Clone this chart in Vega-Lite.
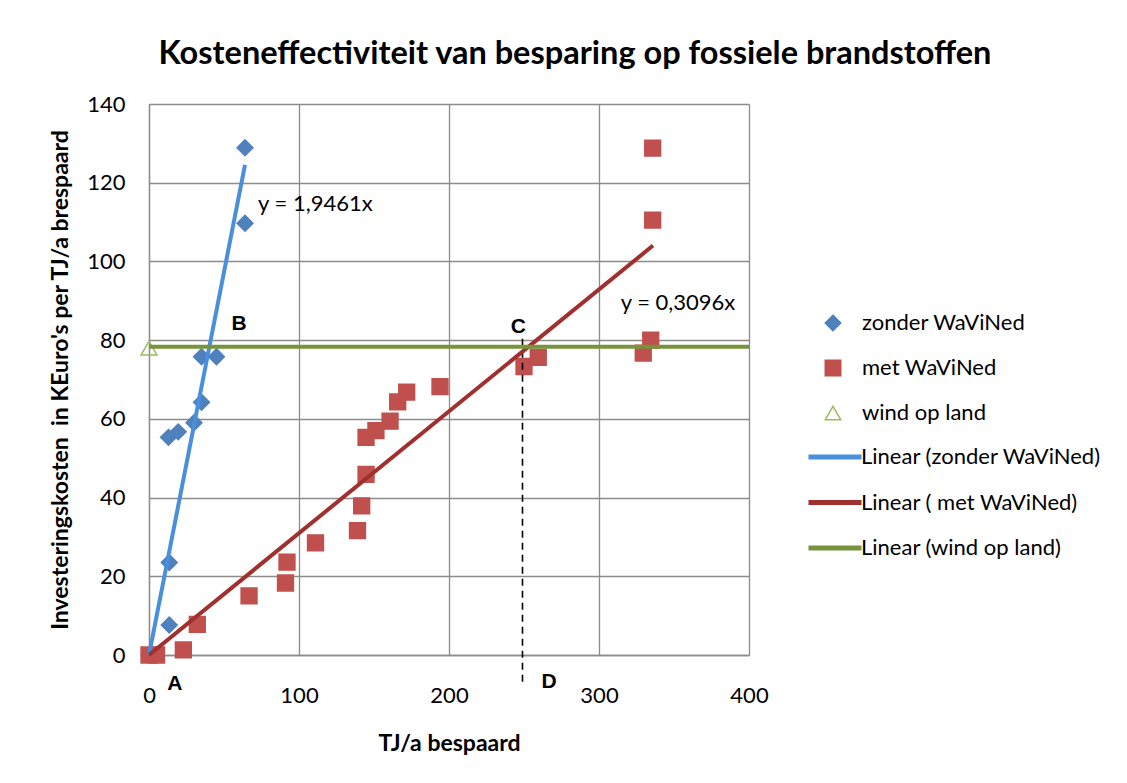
{
  "$schema": "https://vega.github.io/schema/vega-lite/v6.json",
  "width": 600,
  "height": 551,
  "autosize": {"type": "none"},
  "padding": {"left": 149, "top": 104, "right": 378, "bottom": 128},
  "background": "white",
  "title": {
    "text": "Kosteneffectiviteit van besparing op fossiele brandstoffen",
    "font": "Lato",
    "fontSize": 32.5,
    "fontWeight": "bold",
    "color": "#000000",
    "anchor": "middle",
    "frame": "group",
    "dx": 126,
    "offset": 23
  },
  "datasets": {
    "pts": [
      {"series": "zonder WaViNed", "x": 0, "y": 0},
      {"series": "zonder WaViNed", "x": 13.5, "y": 7.6},
      {"series": "zonder WaViNed", "x": 13.5, "y": 23.5},
      {"series": "zonder WaViNed", "x": 13, "y": 55.3},
      {"series": "zonder WaViNed", "x": 19.5, "y": 56.7},
      {"series": "zonder WaViNed", "x": 30, "y": 59},
      {"series": "zonder WaViNed", "x": 35, "y": 64.2},
      {"series": "zonder WaViNed", "x": 35, "y": 75.8},
      {"series": "zonder WaViNed", "x": 45, "y": 75.8},
      {"series": "zonder WaViNed", "x": 64, "y": 109.7},
      {"series": "zonder WaViNed", "x": 64, "y": 128.9},
      {"series": "met WaViNed", "x": 0, "y": 0},
      {"series": "met WaViNed", "x": 5, "y": 0},
      {"series": "met WaViNed", "x": 22.9, "y": 1.3},
      {"series": "met WaViNed", "x": 32.2, "y": 7.8},
      {"series": "met WaViNed", "x": 66.7, "y": 15},
      {"series": "met WaViNed", "x": 91, "y": 18.3},
      {"series": "met WaViNed", "x": 92, "y": 23.6},
      {"series": "met WaViNed", "x": 111, "y": 28.5},
      {"series": "met WaViNed", "x": 139, "y": 31.6},
      {"series": "met WaViNed", "x": 141.8, "y": 37.9},
      {"series": "met WaViNed", "x": 144.7, "y": 45.9},
      {"series": "met WaViNed", "x": 144.7, "y": 55.3},
      {"series": "met WaViNed", "x": 151.3, "y": 57},
      {"series": "met WaViNed", "x": 160.7, "y": 59.4},
      {"series": "met WaViNed", "x": 165.8, "y": 64.3},
      {"series": "met WaViNed", "x": 171.8, "y": 66.8},
      {"series": "met WaViNed", "x": 194, "y": 68.2},
      {"series": "met WaViNed", "x": 250, "y": 73.3},
      {"series": "met WaViNed", "x": 259.5, "y": 75.6},
      {"series": "met WaViNed", "x": 329.5, "y": 76.7},
      {"series": "met WaViNed", "x": 334.5, "y": 80},
      {"series": "met WaViNed", "x": 335.8, "y": 110.5},
      {"series": "met WaViNed", "x": 335.8, "y": 128.8},
      {"series": "wind op land", "x": 0, "y": 78}
    ],
    "trend": [
      {"series": "Linear (zonder WaViNed)", "x": 0, "y": 0},
      {"series": "Linear (zonder WaViNed)", "x": 64, "y": 124.55},
      {"series": "Linear ( met WaViNed)", "x": 0, "y": 0},
      {"series": "Linear ( met WaViNed)", "x": 336, "y": 104.03},
      {"series": "Linear (wind op land)", "x": 0, "y": 78.3},
      {"series": "Linear (wind op land)", "x": 400, "y": 78.3}
    ],
    "marker": [
      {"x": 249, "y": -6.8, "y2": 80.9}
    ],
    "letters": [
      {"x": 17.3, "y": -7.3, "label": "A"},
      {"x": 60, "y": 84, "label": "B"},
      {"x": 246.2, "y": 83.4, "label": "C"},
      {"x": 266.7, "y": -6.8, "label": "D"}
    ],
    "equations": [
      {"x": 72.7, "y": 114.5, "label": "y = 1,9461x"},
      {"x": 314.5, "y": 89.4, "label": "y = 0,3096x"}
    ]
  },
  "encoding": {
    "x": {
      "field": "x",
      "type": "quantitative",
      "scale": {"domain": [0, 400], "nice": false},
      "axis": {"values": [0, 100, 200, 300, 400], "title": "TJ/a bespaard"}
    },
    "y": {
      "field": "y",
      "type": "quantitative",
      "scale": {"domain": [0, 140], "nice": false},
      "axis": {"values": [0, 20, 40, 60, 80, 100, 120, 140], "title": "Investeringskosten \u00a0in KEuro's per TJ/a brespaard"}
    }
  },
  "layer": [
    {
      "data": {"name": "pts"},
      "mark": {"type": "point", "filled": true, "opacity": 1, "size": 250, "strokeWidth": 1.5},
      "encoding": {
        "fill": {
          "field": "series",
          "type": "nominal",
          "scale": {
            "domain": ["zonder WaViNed", "met WaViNed", "wind op land"],
            "range": ["#4F81BD", "#C0504D", "transparent"]
          },
          "legend": {
            "title": null,
            "orient": "none",
            "legendX": 673,
            "legendY": 208,
            "padding": 0,
            "symbolSize": 240,
            "symbolStrokeWidth": 1.5,
            "rowPadding": 23,
            "labelFont": "Lato",
            "labelFontSize": 22,
            "labelLimit": 400,
            "labelColor": "#000000",
            "labelOffset": 18
          }
        },
        "stroke": {
          "field": "series",
          "type": "nominal",
          "scale": {
            "domain": ["zonder WaViNed", "met WaViNed", "wind op land"],
            "range": ["#4F81BD", "#C0504D", "#9BBB59"]
          },
          "legend": {
            "title": null,
            "orient": "none",
            "legendX": 673,
            "legendY": 208,
            "padding": 0,
            "symbolSize": 240,
            "symbolStrokeWidth": 1.5,
            "rowPadding": 23,
            "labelFont": "Lato",
            "labelFontSize": 22,
            "labelLimit": 400,
            "labelColor": "#000000",
            "labelOffset": 18
          }
        },
        "shape": {
          "field": "series",
          "type": "nominal",
          "scale": {
            "domain": ["zonder WaViNed", "met WaViNed", "wind op land"],
            "range": ["diamond", "square", "M0,-0.87L1,0.87L-1,0.87Z"]
          },
          "legend": {
            "title": null,
            "orient": "none",
            "legendX": 673,
            "legendY": 208,
            "padding": 0,
            "symbolSize": 240,
            "symbolStrokeWidth": 1.5,
            "rowPadding": 23,
            "labelFont": "Lato",
            "labelFontSize": 22,
            "labelLimit": 400,
            "labelColor": "#000000",
            "labelOffset": 18
          }
        }
      }
    },
    {
      "data": {"name": "marker"},
      "mark": {"type": "rule", "color": "#000000", "strokeWidth": 1.6, "strokeDash": [7, 5]},
      "encoding": {"y2": {"field": "y2"}}
    },
    {
      "data": {"name": "trend"},
      "mark": {"type": "line", "strokeWidth": 4},
      "encoding": {
        "color": {
          "field": "series",
          "type": "nominal",
          "scale": {
            "domain": ["Linear (zonder WaViNed)", "Linear ( met WaViNed)", "Linear (wind op land)"],
            "range": ["#4A8FDC", "#A0302D", "#77933C"]
          },
          "legend": {
            "title": null,
            "orient": "none",
            "legendX": 657,
            "legendY": 324,
            "padding": 0,
            "symbolType": "stroke",
            "symbolSize": 2809,
            "symbolStrokeWidth": 5,
            "rowPadding": 5.5,
            "labelFont": "Lato",
            "labelFontSize": 22,
            "labelLimit": 400,
            "labelColor": "#000000",
            "labelOffset": -3
          }
        }
      }
    },
    {
      "data": {"name": "letters"},
      "mark": {"type": "text", "font": "Liberation Sans", "fontSize": 21, "fontWeight": "bold", "color": "#000000", "align": "center", "baseline": "middle"},
      "encoding": {"text": {"field": "label"}}
    },
    {
      "data": {"name": "equations"},
      "mark": {"type": "text", "font": "Lato", "fontSize": 22, "color": "#000000", "align": "left", "baseline": "middle"},
      "encoding": {"text": {"field": "label"}}
    }
  ],
  "config": {
    "font": "Lato",
    "view": {"stroke": null},
    "axis": {
      "grid": true,
      "gridColor": "#8c8c8c",
      "gridWidth": 1.3,
      "domainColor": "#8c8c8c",
      "domainWidth": 1.3,
      "ticks": false,
      "labelFont": "Lato",
      "labelFontSize": 22,
      "labelColor": "#000000",
      "labelFlush": false,
      "labelOverlap": false,
      "titleFont": "Lato",
      "titleFontSize": 23,
      "titleFontWeight": "bold",
      "titleColor": "#000000"
    },
    "axisX": {"labelPadding": 30, "titlePadding": 26},
    "axisY": {"labelPadding": 24, "titlePadding": 14}
  }
}
